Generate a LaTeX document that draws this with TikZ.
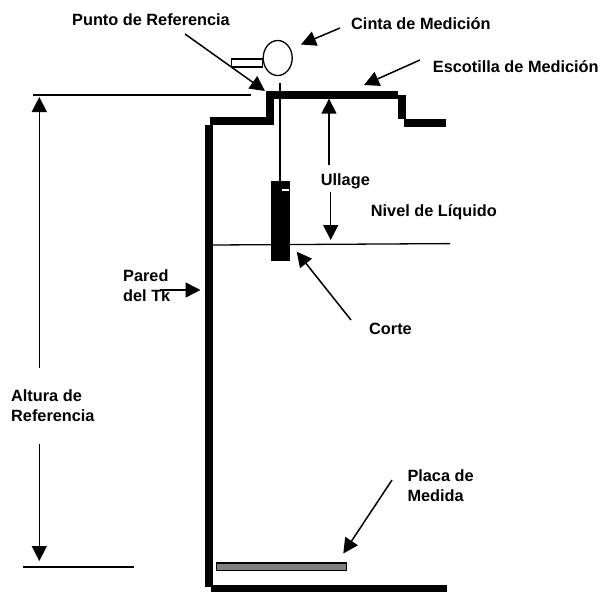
\documentclass[tikz,border=0pt]{standalone}
\usepackage{fontspec}
\setmainfont{Liberation Sans}
\usetikzlibrary{arrows.meta,shapes.geometric}
\tikzset{
  x=1pt,y=-1pt,
  wall/.style={line width=7.6pt,line cap=butt,line join=miter,black},
  thinline/.style={line width=1.3pt,black},
  ptr/.style={line width=1.5pt,black,-{Triangle[length=15pt,width=15pt]}},
  lbl/.style={font=\bfseries\fontsize{16.3}{20}\selectfont,text=black,inner sep=0pt,anchor=base west},
}
\begin{document}
\begin{tikzpicture}
\useasboundingbox (0,0) rectangle (603,592);
% tank outline
\draw[wall] (209,586.7) -- (209,125);
\draw[wall] (210,121) -- (270,121) -- (270,91);
\draw[wall] (266,95) -- (398,95);
\draw[wall] (402,95) -- (402,119);
\draw[wall] (404,123) -- (446,123);
\draw[wall] (211,589) -- (447,589);
% measuring tape
\node[draw=black,line width=1.3pt,ellipse,minimum width=29pt,minimum height=35pt,inner sep=0pt] (reel) at (277.7,58) {};
\node[draw=black,line width=1.3pt,rectangle,minimum width=31pt,minimum height=8pt,inner sep=0pt] (handle) at (247.2,63) {};
\node[fill=black,rectangle,minimum width=18.4pt,minimum height=80.6pt,inner sep=0pt] (bob) at (280.5,221) {};
\coordinate (tapetop) at (280,83);
\draw[thinline] (tapetop) -- (tapetop |- bob.north);
\draw[white,line width=1.3pt] (282,190) -- (289,190);
% liquid level
\coordinate (levelL) at (213,245);
\coordinate (levelR) at (450,243.6);
\draw[thinline] (levelL) -- (levelR);
\draw[fill=black!50,draw=black,line width=1.2pt] (216.5,563) rectangle (346.5,570.5);
% reference lines
\coordinate (refTopL) at (33,95);
\coordinate (refTopR) at (251,95);
\coordinate (refBotL) at (22.7,567);
\coordinate (refBotR) at (134,567);
\draw[thinline] (refTopL) -- (refTopR);
\draw[thinline] (refBotL) -- (refBotR);
% labels
\node[lbl] (punto) at (72,25) {Punto de Referencia};
\node[lbl] (cinta) at (351,29) {Cinta de Medición};
\node[lbl] (escotilla) at (432.7,72.7) {Escotilla de Medición};
\node[lbl] (ullage) at (320.7,185) {Ullage};
\node[lbl] (nivel) at (370.7,216.7) {Nivel de Líquido};
\node[lbl] (corte) at (369,334) {Corte};
\node[lbl] (pared1) at (123,281.7) {Pared};
\node[lbl] (pared2) at (123,301.7) {del Tk};
\node[lbl] (altura1) at (11,401.7) {Altura de};
\node[lbl] (altura2) at (11,421.7) {Referencia};
\node[lbl] (placa1) at (407.3,481.7) {Placa de};
\node[lbl] (placa2) at (407.3,501.7) {Medida};
% pointers
\coordinate (a1) at (185,34);   \coordinate (a2) at (265,91);
\coordinate (b1) at (340,28);   \coordinate (b2) at (301,44.5);
\coordinate (c1) at (420,60);   \coordinate (c2) at (364,85);
\coordinate (d1) at (329,165);  \coordinate (d2) at (329,98.7);
\coordinate (e1) at (330.7,191.7); \coordinate (e2) at (330.7,240);
\coordinate (f1) at (351,320);  \coordinate (f2) at (296.7,251.7);
\coordinate (g1) at (160,290);  \coordinate (g2) at (200.5,290);
\coordinate (h1) at (39.3,368); \coordinate (h2) at (39.3,97);
\coordinate (i1) at (39.3,444); \coordinate (i2) at (39.3,561);
\coordinate (j1) at (392,480);  \coordinate (j2) at (343.3,553.5);
\foreach \s/\t in {a1/a2,b1/b2,c1/c2,d1/d2,e1/e2,f1/f2,g1/g2,h1/h2,i1/i2,j1/j2}
  \draw[ptr] (\s) -- (\t);
\end{tikzpicture}
\end{document}
